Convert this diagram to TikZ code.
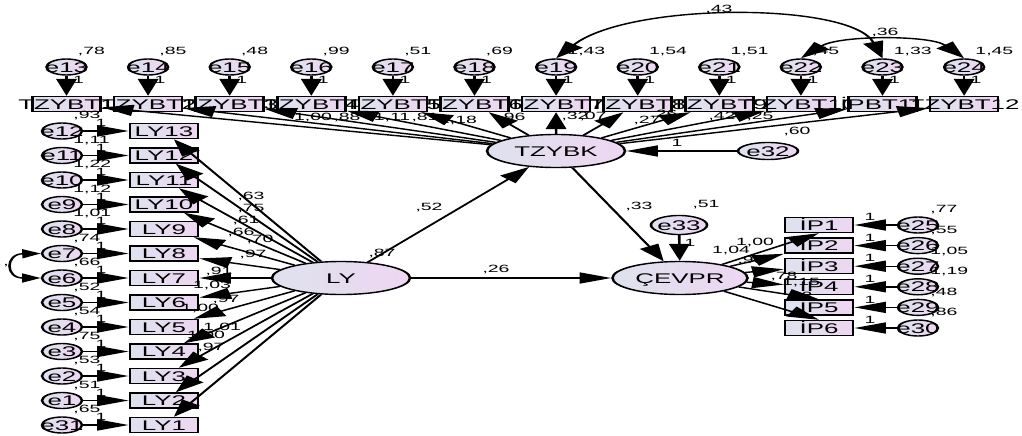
\documentclass[tikz,border=0pt]{standalone}
\usepackage{fontspec}
\setmainfont{Liberation Sans}
\usetikzlibrary{arrows.meta,shapes.geometric}
\definecolor{cbl}{RGB}{222,226,238}
\definecolor{cpk}{RGB}{238,214,242}
\newcommand\fbig{\fontsize{14}{14}\selectfont}
\newcommand\fsmall{\fontsize{10.5}{10.5}\selectfont}
\newcommand\zb[1]{\makebox[0pt]{#1}}
\tikzset{
 obs/.style={rectangle,draw,line width=1.4pt,minimum width=36.8pt,minimum height=15pt,inner sep=0pt,left color=cbl,right color=cpk,font=\fbig,text height=10pt,text depth=0pt},
 errc/.style={ellipse,draw,line width=1.4pt,minimum width=21.6pt,minimum height=16pt,inner sep=0pt,left color=cbl,right color=cpk,font=\fbig,text height=10pt,text depth=0pt},
 latv/.style={ellipse,draw,line width=1.4pt,minimum width=74.6pt,minimum height=33pt,inner sep=0pt,left color=cbl,right color=cpk,font=\fbig,text height=10pt,text depth=0pt},
 lbl/.style={font=\fsmall,inner sep=0pt},
 arr/.style={line width=1.4pt,-{Triangle[length=17pt,width=11pt]}},
 cov/.style={line width=1.4pt,{Triangle[length=17pt,width=11pt]}-{Triangle[length=17pt,width=11pt]}},
 covs/.style={line width=1.4pt,{Triangle[length=10pt,width=9pt]}-{Triangle[length=10pt,width=9pt]}},
}
\begin{document}
\begin{tikzpicture}[x=1pt,y=-1pt]
\useasboundingbox (0,0) rectangle (1022,436);
\fill[white] (0,0) rectangle (1022,436);
\begin{scope}[transform canvas={xscale=1.85},x=0.540541pt,y=-1pt]
% ---- top row
\foreach \i/\tx/\ee/\vv in {1/TZYBT1/13/{,78},2/TZYBT2/14/{,85},3/TZYBT3/15/{,48},4/TZYBT4/16/{,99},5/TZYBT5/17/{,51},6/TZYBT6/18/{,69},7/TZYBT7/19/{1,43},8/TZYBT8/20/{1,54},9/TZYBT9/21/{1,51},10/TZYBT10/22/{,45},11/İPBT11/23/{1,33},12/TZYBT12/24/{1,45}}{
  \pgfmathsetmacro\xx{66.5+(\i-1)*81.6}
  \node[obs] (t\i) at (\xx,104) {\zb{\tx}};
  \node[errc] (e\ee) at (\xx,67) {\zb{e\ee}};
  \node[lbl,anchor=west] at (\xx+11,52) {\vv};
  \node[lbl] at (\xx+12,80) {1};
  \draw[arr] (e\ee) -- (t\i);
}
% ---- left column
\foreach \k/\bx/\ee/\vv in {0/13/12/{,93},1/12/11/{1,11},2/11/10/{1,22},3/10/9/{1,12},4/9/8/{1,01},5/8/7/{,74},6/7/6/{,66},7/6/5/{,52},8/5/4/{,54},9/4/3/{,75},10/3/2/{,53},11/2/1/{,51},12/1/31/{,65}}{
  \pgfmathsetmacro\yy{131+\k*24.5}
  \node[obs] (ly\bx) at (164,\yy) {\zb{LY\bx}};
  \node[errc] (e\ee) at (62,\yy) {\zb{e\ee}};
  \node[lbl,anchor=west] at (73,\yy-15) {\vv};
  \node[lbl] at (101,\yy-8) {1};
  \draw[arr] (e\ee) -- (ly\bx);
}
% ---- right column
\foreach \k/\ee/\vv in {1/25/{,77},2/26/{,55},3/27/{1,05},4/28/{1,19},5/29/{,48},6/30/{,86}}{
  \pgfmathsetmacro\yy{225+(\k-1)*20.6}
  \node[obs] (ip\k) at (819,\yy) {\zb{İP\k}};
  \node[errc] (e\ee) at (918,\yy) {\zb{e\ee}};
  \node[lbl,anchor=west] at (930,\yy-15) {\vv};
  \node[lbl] at (870,\yy-8) {1};
  \draw[arr] (e\ee) -- (ip\k);
}
% ---- latent variables
\node[latv] (ly) at (341,278) {\zb{LY}};
\node[latv] (tz) at (556,151) {\zb{TZYBK}};
\node[latv,minimum width=73pt] (cev) at (680,278) {\zb{ÇEVPR}};
\node[errc,minimum width=32.4pt,minimum height=17pt] (e32) at (768,151) {\zb{e32}};
\node[errc,minimum width=30.3pt,minimum height=19pt] (e33) at (679,225) {\zb{e33}};
% ---- labels
\foreach \p/\q/\s in {313/118/{1,00},347/118/{,88},392/118/{1,11},425/118/{,81},458/121/{1,18},512/118/{,96},575/117/{,32},593/117/{,07},647/121/{,27},664/115/{,26},722/117/{,42},760/117/{,25},
 251/197/{,63},251/209/{,75},246/221/{,61},241/233/{,66},260/240/{,70},253/255/{,97},219/272/{,91},212/286/{1,03},226/300/{,97},200/309/{1,00},222/328/{1,01},206/336/{1,00},211/348/{,97},
 755/243/{1,00},731/251/{1,04},751/261/{,90},784/277/{,78},801/283/{1,15},799/297/{,98},
 429/208/{,52},382/254/{,87},496/270/{,26},639/207/{,33},706/205/{,51},797/132/{,60},719/10/{,43},885/33/{,36},6/266/{,}}
  \node[lbl] at (\p,\q) {\s};
\node[lbl] at (677,143) {1};
\node[lbl] at (690,243) {1};
% ---- connectors
\foreach \i in {1,...,12} \draw[arr] (tz) -- (t\i);
\foreach \i in {1,...,13} \draw[arr] (ly) -- (ly\i);
\draw[arr] (cev) -- (ip1.south);
\draw[arr] (cev) -- (ip2);
\draw[arr] (cev) -- (ip3);
\draw[arr] (cev) -- (ip4);
\draw[arr] (cev) -- (ip5.north);
\draw[arr] (cev) -- (ip6.north);
\draw[arr] (ly) -- (tz);
\draw[arr] (ly) -- (cev);
\draw[arr] (tz) -- (cev);
\draw[arr] (e32) -- (tz);
\draw[arr] (e33) -- (cev);
\draw[cov] (e19.north) .. controls (630,2) and (850,2) .. (e23.north);
\draw[cov] (e22.north) .. controls (840,35) and (930,35) .. (e24.north);
\draw[covs] (e7.west) .. controls (5,254) and (5,278) .. (e6.west);
\end{scope}
\end{tikzpicture}
\end{document}
